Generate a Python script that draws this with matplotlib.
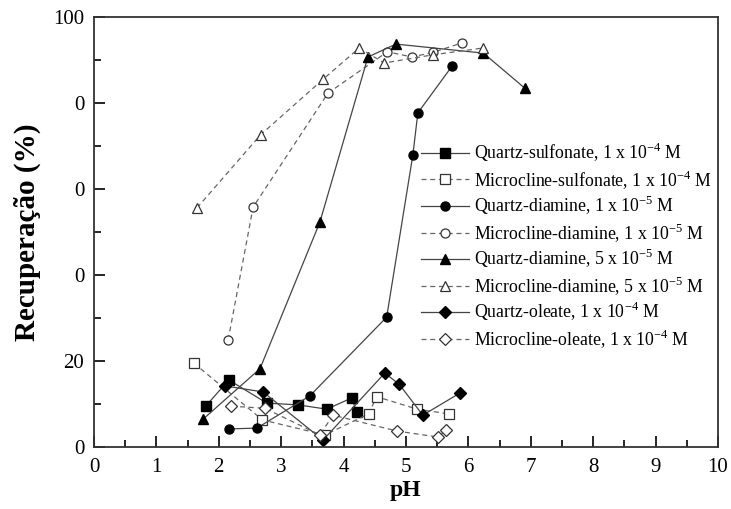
import numpy as np
import matplotlib
matplotlib.use('Agg')
import matplotlib.pyplot as plt

plt.rcParams['font.family'] = ['Liberation Serif', 'DejaVu Serif']
plt.rcParams['mathtext.fontset'] = 'custom'
plt.rcParams['mathtext.rm'] = 'Liberation Serif'

# Quartz-sulfonate, 1e-4 M
qs_ph = [1.79, 2.16, 2.77, 3.27, 3.73, 4.13, 4.21]
qs_rec = [9.5, 15.6, 10.2, 9.8, 8.8, 11.4, 8.1]
# Microcline-sulfonate, 1e-4 M
ms_ph = [1.6, 2.7, 3.7, 4.4, 4.53, 5.18, 5.69]
ms_rec = [19.5, 6.3, 2.8, 7.7, 11.7, 8.8, 7.7]
# Quartz-diamine, 1e-5 M
qd1_ph = [2.16, 2.61, 3.46, 4.69, 5.11, 5.19, 5.74]
qd1_rec = [4.2, 4.4, 11.9, 30.2, 67.9, 77.7, 88.6]
# Microcline-diamine, 1e-5 M
md1_ph = [2.15, 2.55, 3.75, 4.7, 5.1, 5.44, 5.9]
md1_rec = [24.9, 55.8, 82.3, 91.9, 90.7, 91.8, 94.0]
# Quartz-diamine, 5e-5 M
qd5_ph = [1.75, 2.66, 3.62, 4.39, 4.84, 6.24, 6.9]
qd5_rec = [6.5, 18.2, 52.3, 90.7, 93.7, 91.6, 83.5]
# Microcline-diamine, 5e-5 M
md5_ph = [1.65, 2.67, 3.67, 4.25, 4.65, 5.43, 6.24]
md5_rec = [55.6, 72.6, 85.5, 92.8, 89.3, 91.2, 92.8]
# Quartz-oleate, 1e-4 M
qo_ph = [2.1, 2.71, 3.67, 4.66, 4.89, 5.27, 5.87]
qo_rec = [14.2, 12.8, 1.6, 17.2, 14.6, 7.4, 12.6]
# Microcline-oleate, 1e-4 M
mo_ph = [2.2, 2.74, 3.62, 3.83, 4.86, 5.52, 5.64]
mo_rec = [9.5, 9.0, 2.8, 7.4, 3.7, 2.3, 4.0]

y_ticks = [0, 20, 40, 60, 80, 100]
y_ticklabels = ['0', '20', '0', '0', '0', '100']

fig = plt.figure(figsize=(7.31, 5.09), dpi=100)
ax = fig.add_axes([0.1286, 0.1218, 0.8536, 0.8448])

solid = dict(color='#444444', lw=0.9, ls='-', markeredgecolor='black', markerfacecolor='black')
dash = dict(color='#666666', lw=0.9, ls=(0, (4, 3)), markeredgecolor='#333333', markerfacecolor='white',
            markeredgewidth=0.9)

ax.plot(qs_ph, qs_rec, marker='s', ms=6.5, label='Quartz-sulfonate, 1 x 10$^{-4}$ M', **solid)
ax.plot(ms_ph, ms_rec, marker='s', ms=6.5, label='Microcline-sulfonate, 1 x 10$^{-4}$ M', **dash)
ax.plot(qd1_ph, qd1_rec, marker='o', ms=6.5, label='Quartz-diamine, 1 x 10$^{-5}$ M', **solid)
ax.plot(md1_ph, md1_rec, marker='o', ms=6.5, label='Microcline-diamine, 1 x 10$^{-5}$ M', **dash)
ax.plot(qd5_ph, qd5_rec, marker='^', ms=7.5, label='Quartz-diamine, 5 x 10$^{-5}$ M', **solid)
ax.plot(md5_ph, md5_rec, marker='^', ms=7.5, label='Microcline-diamine, 5 x 10$^{-5}$ M', **dash)
ax.plot(qo_ph, qo_rec, marker='D', ms=6.5, label='Quartz-oleate, 1 x 10$^{-4}$ M', **solid)
ax.plot(mo_ph, mo_rec, marker='D', ms=6.5, label='Microcline-oleate, 1 x 10$^{-4}$ M', **dash)

ax.set_xlim(0, 10)
ax.set_ylim(0, 100)
ax.set_xticks(range(0, 11))
ax.set_xticks(np.arange(0.5, 10, 1), minor=True)
ax.set_yticks(y_ticks)
ax.set_yticklabels(y_ticklabels)
ax.set_yticks(range(10, 100, 20), minor=True)
ax.tick_params(which='both', direction='in', top=False, right=False, labelsize=15, width=1.2)
ax.tick_params(which='major', length=8)
ax.tick_params(which='minor', length=5)
ax.tick_params(axis='x', pad=8)
ax.tick_params(axis='y', pad=7)
for s in ax.spines.values():
    s.set_linewidth(1.3)
    s.set_color('#333333')

ax.set_xlabel('pH', fontsize=17, fontweight='bold', labelpad=2)
ax.set_ylabel('Recuperação (%)', fontsize=21, fontweight='bold', labelpad=9)

ax.legend(loc='upper left', bbox_to_anchor=(421 / 731, 1 - 141 / 509), bbox_transform=fig.transFigure,
          frameon=False, fontsize=12.8, handlelength=2.7, labelspacing=0.2, handletextpad=0.3,
          borderaxespad=0, borderpad=0)

fig.savefig('out.png', dpi=100)
